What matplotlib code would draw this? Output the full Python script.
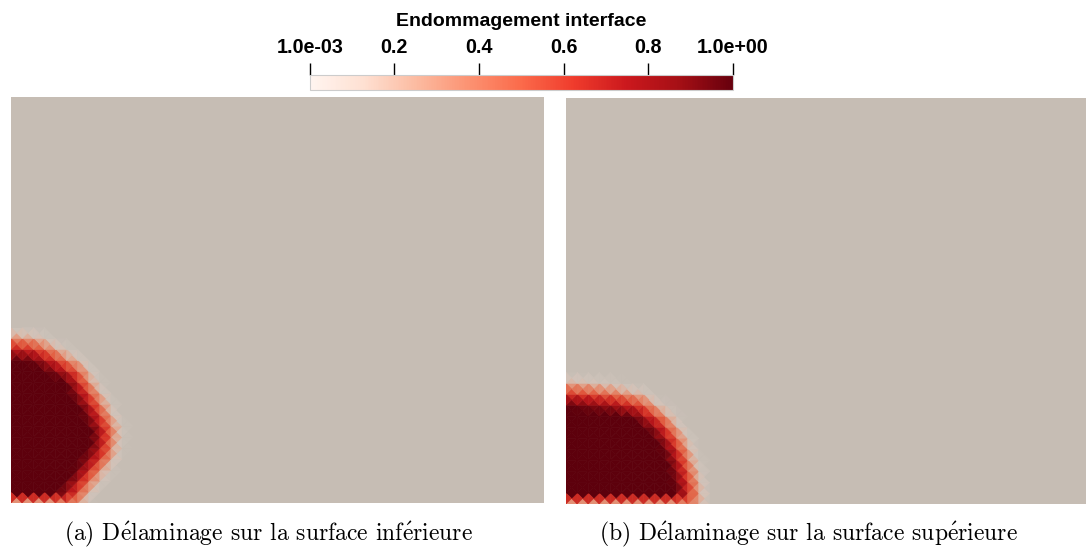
import numpy as np
import matplotlib
matplotlib.use("Agg")
import matplotlib.pyplot as plt
import matplotlib.tri as mtri
from matplotlib.path import Path
from matplotlib.colors import ListedColormap, Normalize
from matplotlib.cm import ScalarMappable

plt.rcParams["mathtext.fontset"] = "cm"

# damage front (panel units = pixels, origin at bottom-left corner)
left_size = (533, 406)
left_front_h = [0, 26, 50, 73, 100, 133, 150, 158, 161]
left_front_x = [61, 79, 96, 99, 86, 66, 39, 22, 0]

right_size = (520, 406)
right_front_h = [0, 17, 34, 51, 67, 84, 101, 108, 112, 114]
right_front_x = [127, 126, 122, 117, 109, 97, 75, 50, 20, 0]

cbar_ticks = [0.001, 0.2, 0.4, 0.6, 0.8, 1.0]
cbar_labels = ["1.0e-03", "0.2", "0.4", "0.6", "0.8", "1.0e+00"]
cbar_title = "Endommagement interface"
# é written with a mathtext accent so it stays in Computer Modern
captions = [r"(a) D$\acute{\rm e}$laminage sur la surface inf$\acute{\rm e}$rieure",
            r"(b) D$\acute{\rm e}$laminage sur la surface sup$\acute{\rm e}$rieure"]

GRAY = np.array([0.776, 0.741, 0.706])
CELL = 11.0
BAND = 30.0


def criss_cross_mesh(w, h):
    nx, ny = int(round(w / CELL)), int(round(h / CELL))
    xs, ys = np.linspace(0, w, nx + 1), np.linspace(0, h, ny + 1)
    gx, gy = np.meshgrid(xs, ys)
    px, py = list(gx.ravel()), list(gy.ravel())
    tris = []
    node = lambda i, j: j * (nx + 1) + i
    for j in range(ny):
        for i in range(nx):
            c = len(px)
            px.append((xs[i] + xs[i + 1]) / 2)
            py.append((ys[j] + ys[j + 1]) / 2)
            a, b = node(i, j), node(i + 1, j)
            d, e = node(i, j + 1), node(i + 1, j + 1)
            tris += [[a, b, c], [b, e, c], [e, d, c], [d, a, c]]
    return np.array(px), np.array(py), np.array(tris)


def damage_on_nodes(px, py, fx, fh):
    pts = np.column_stack([px, py])
    front = np.column_stack([fx, fh])
    poly = Path(np.vstack([[0, 0], front, [0, 0]]))
    inside = poly.contains_points(pts)
    # distance to the front polyline
    dist = np.full(len(pts), np.inf)
    for p0, p1 in zip(front[:-1], front[1:]):
        seg = p1 - p0
        t = np.clip(((pts - p0) @ seg) / (seg @ seg), 0, 1)
        proj = p0 + t[:, None] * seg
        dist = np.minimum(dist, np.hypot(*(pts - proj).T))
    sd = np.where(inside, dist, -dist)
    return np.clip(0.5 + sd / BAND, 0, 1)


def panel_cmap():
    t = np.linspace(0, 1, 256)
    reds = plt.cm.Reds(t)[:, :3] * 0.9
    a = np.clip(t / 0.3, 0, 1)[:, None]
    return ListedColormap((1 - a) * GRAY + a * reds)


def draw_panel(ax, size, fx, fh):
    w, h = size
    px, py, tris = criss_cross_mesh(w, h)
    nd = damage_on_nodes(px, py, fx, fh)
    vals = nd[tris].mean(axis=1)
    keep = vals > 0.001
    tri = mtri.Triangulation(px, py, tris[keep])
    ax.set_facecolor(GRAY)
    ax.tripcolor(tri, facecolors=vals[keep], cmap=panel_cmap(), vmin=0, vmax=1,
                 edgecolors="face", linewidth=0.4)
    ax.set_xlim(0, w)
    ax.set_ylim(0, h)
    ax.set_xticks([])
    ax.set_yticks([])
    for s in ax.spines.values():
        s.set_visible(False)


fig = plt.figure(figsize=(10.86, 5.47), dpi=100)
W, H = 1086, 547

ax1 = fig.add_axes([11 / W, (H - 503) / H, 533 / W, 406 / H])
draw_panel(ax1, left_size, left_front_x, left_front_h)
ax2 = fig.add_axes([566 / W, (H - 504) / H, 520 / W, 406 / H])
draw_panel(ax2, right_size, right_front_x, right_front_h)

# colour bar
cax = fig.add_axes([310 / W, (H - 90) / H, 423 / W, 15 / H])
sm = ScalarMappable(norm=Normalize(0.001, 1.0), cmap="Reds")
cb = fig.colorbar(sm, cax=cax, orientation="horizontal")
cb.outline.set_edgecolor("#cccccc")
cb.outline.set_linewidth(0.8)
cax.xaxis.set_ticks_position("top")
cax.set_xticks(cbar_ticks)
cax.set_xticklabels(cbar_labels, fontfamily="Liberation Sans", fontweight="bold", fontsize=14.2)
cax.tick_params(axis="x", direction="out", length=9, width=1, pad=4, color="black")
fig.text(521.5 / W, 1 - 21 / H, cbar_title, ha="center", va="center",
         fontfamily="Liberation Sans", fontweight="bold", fontsize=14)

# captions
for xc, txt in zip([268, 808], captions):
    fig.text(xc / W, 1 - 540 / H, txt, ha="center", va="baseline",
             fontfamily="cmr10", fontsize=17)

fig.savefig("out.png", dpi=100)
